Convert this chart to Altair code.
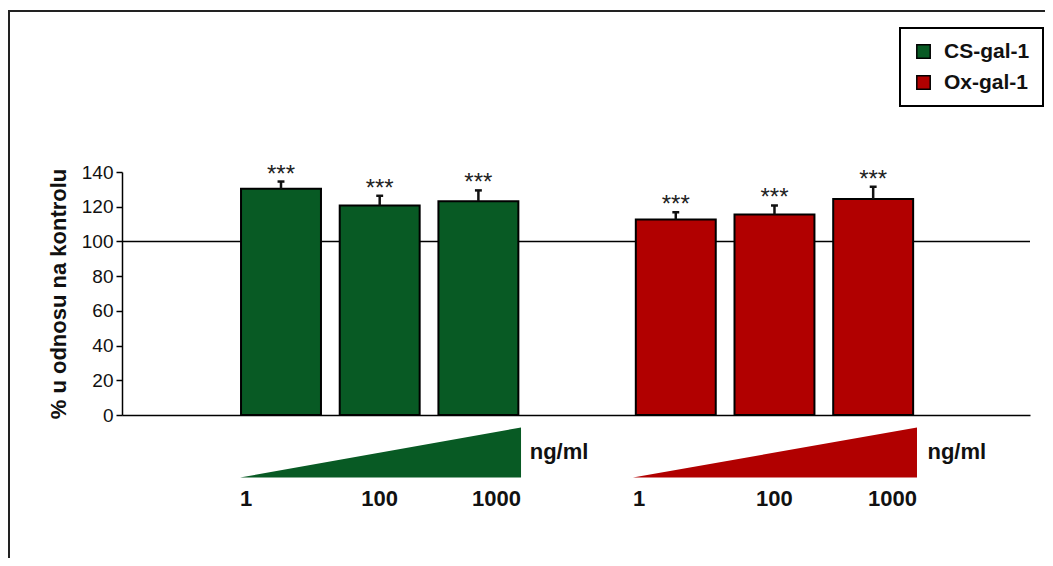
import altair as alt
import pandas as pd

# ---- data ----
groups = ["CS-gal-1", "CS-gal-1", "CS-gal-1", "Ox-gal-1", "Ox-gal-1", "Ox-gal-1"]
doses = ["1", "100", "1000", "1", "100", "1000"]
positions = [1, 2, 3, 5, 6, 7]
values = [130.3, 120.7, 123.2, 112.6, 115.5, 124.5]
errors = [4.2, 5.6, 6.2, 4.2, 5.2, 7.0]
stars = ["***"] * 6

series = ["CS-gal-1", "Ox-gal-1"]
colors = ["#085a24", "#b10000"]

# dose wedges (triangles) under each group
wedge_group = ["CS-gal-1", "CS-gal-1", "Ox-gal-1", "Ox-gal-1"]
wedge_x = [0.585, 3.432, 4.566, 7.444]
wedge_top = [-36.0, -7.2, -36.0, -7.2]
wedge_base = -36.0

dose_labels = ["1", "100", "1000", "1", "100", "1000"]
dose_label_x = [0.585, 2.0, 3.432, 4.566, 6.0, 7.444]
dose_label_align = ["left", "center", "right", "left", "center", "right"]
dose_label_y = -52.4

unit_text = ["ng/ml", "ng/ml"]
unit_x = [3.52, 7.55]
unit_y = -25.6

ref_value = 100
y_ticks = [0, 20, 40, 60, 80, 100, 120, 140]

FONT = "Liberation Sans"
BAR_HALF = 0.405
CAP_HALF = 0.035

bars_df = pd.DataFrame({"group": groups, "dose": doses, "pos": positions,
                        "value": values, "err": errors, "stars": stars})
bars_df["top"] = bars_df["value"] + bars_df["err"]
bars_df["x0"] = bars_df["pos"] - BAR_HALF
bars_df["x1"] = bars_df["pos"] + BAR_HALF
bars_df["c0"] = bars_df["pos"] - CAP_HALF
bars_df["c1"] = bars_df["pos"] + CAP_HALF

wedge_df = pd.DataFrame({"group": wedge_group, "x": wedge_x, "y": wedge_top})
wedge_df["y2"] = wedge_base

lab_df = pd.DataFrame({"label": dose_labels, "x": dose_label_x, "align": dose_label_align})
lab_df["y"] = dose_label_y
unit_df = pd.DataFrame({"label": unit_text, "x": unit_x})
unit_df["y"] = unit_y

xs = alt.Scale(domain=[-0.611, 8.589], nice=False, zero=False)
ys = alt.Scale(domain=[0, 140], nice=False, zero=False)
cs = alt.Scale(domain=series, range=colors)

x_axis = alt.Axis(labels=False, ticks=False, title=None, grid=False,
                  domainColor="black", domainWidth=1.5)
y_axis = alt.Axis(values=y_ticks, title="% u odnosu na kontrolu", grid=False,
                  domainColor="black", domainWidth=1.5, tickColor="black",
                  tickWidth=1.5, tickSize=6, labelFont=FONT, labelFontSize=19,
                  labelColor="#111", labelPadding=3, labelOverlap=False,
                  titleFont=FONT, titleFontSize=22, titleFontWeight="bold",
                  titleColor="#111", titlePadding=11)

legend = alt.Legend(
    title=None, orient="none", legendX=778, legendY=-144,
    symbolType="square", symbolSize=180, symbolStrokeColor="black",
    symbolStrokeWidth=1.5, symbolOpacity=1, labelFont=FONT, labelFontSize=21,
    labelFontWeight="bold", labelColor="#111", labelOffset=10,
    strokeColor="black", padding=13, rowPadding=9,
    fillColor="white",
)


def X(field):
    return alt.X(field, scale=xs, axis=x_axis)


def Y(field):
    return alt.Y(field, scale=ys, axis=y_axis)


color = alt.Color("group:N", scale=cs, legend=legend)

ref = alt.Chart(pd.DataFrame({"y": [ref_value]})).mark_rule(
    color="black", strokeWidth=1.5
).encode(y=Y("y:Q"))

wedges = alt.Chart(wedge_df).mark_area(opacity=1).encode(
    x=X("x:Q"), y=Y("y:Q"), y2="y2:Q", color=color,
)

bars = alt.Chart(bars_df).mark_bar(stroke="black", strokeWidth=2, opacity=1).encode(
    x=X("x0:Q"), x2="x1:Q", y=Y("value:Q"), y2=alt.datum(0), color=color,
)

err = alt.Chart(bars_df).mark_rule(color="#111", strokeWidth=2.5).encode(
    x=X("pos:Q"), y=Y("value:Q"), y2="top:Q"
)
caps = alt.Chart(bars_df).mark_rule(color="#111", strokeWidth=2.5).encode(
    x=X("c0:Q"), x2="c1:Q", y=Y("top:Q")
)
star_text = alt.Chart(bars_df).mark_text(
    font=FONT, fontSize=24, color="#222", baseline="alphabetic", dy=0
).encode(x=X("pos:Q"), y=Y("top:Q"), text="stars:N")


def dose_layer(al):
    return alt.Chart(lab_df).transform_filter(
        alt.datum.align == al
    ).mark_text(
        font=FONT, fontSize=22, fontWeight="bold", color="#111",
        baseline="alphabetic", align=al
    ).encode(x=X("x:Q"), y=Y("y:Q"), text="label:N")


unit_label = alt.Chart(unit_df).mark_text(
    font=FONT, fontSize=22, fontWeight="bold", color="#111", baseline="alphabetic",
    align="left"
).encode(x=X("x:Q"), y=Y("y:Q"), text="label:N")

frame = alt.Chart(pd.DataFrame({"a": [0]})).mark_rect(
    filled=False, stroke="#222", strokeWidth=2
).encode(x=alt.value(-113), y=alt.value(-161), x2=alt.value(1200), y2=alt.value(800))

chart = alt.layer(
    ref, wedges, bars, err, caps, star_text,
    dose_layer("left"), dose_layer("center"), dose_layer("right"), unit_label, frame
).properties(
    width=908, height=243,
    autosize=alt.AutoSizeParams(type="none"),
    padding={"left": 114, "top": 164, "right": 15, "bottom": 143},
    background="white",
).configure_view(stroke=None).configure_legend(strokeWidth=2)

chart.save("out.html", embed_options={"renderer": "svg", "actions": False})
